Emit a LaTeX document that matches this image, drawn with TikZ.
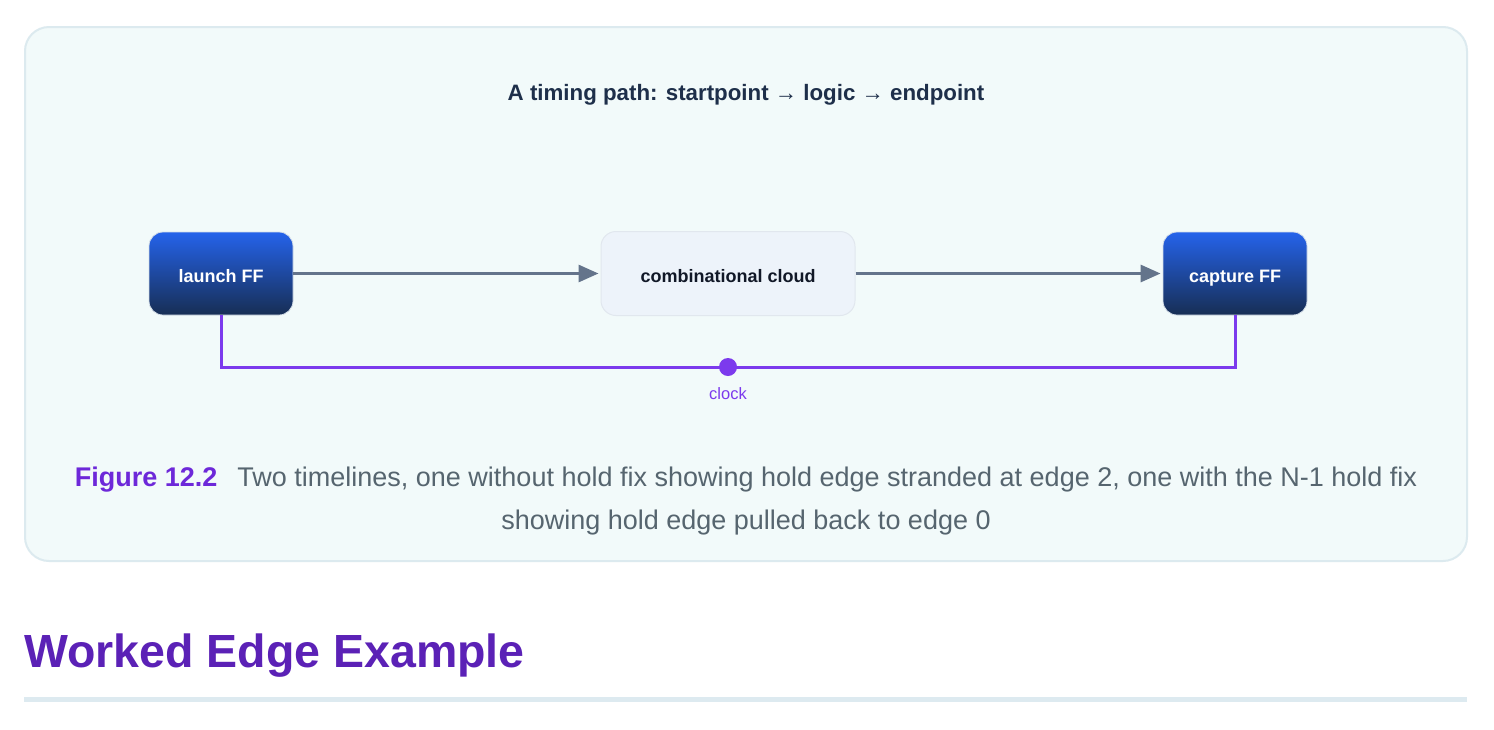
\documentclass[tikz,border=0pt]{standalone}
\usepackage{fontspec}
\setmainfont{Liberation Sans}
\usetikzlibrary{positioning}
\usetikzlibrary{arrows.meta}
\definecolor{panelbg}{HTML}{F2FAFA}
\definecolor{panelline}{HTML}{DCEAEF}
\definecolor{titleink}{HTML}{1E2F4A}
\definecolor{fftop}{HTML}{2563EB}
\definecolor{ffbot}{HTML}{172E54}
\definecolor{ffline}{HTML}{D5DEE8}
\definecolor{cloudfill}{HTML}{EDF3FA}
\definecolor{cloudline}{HTML}{E1E7EE}
\definecolor{cloudink}{HTML}{111827}
\definecolor{wireg}{HTML}{64748B}
\definecolor{clk}{HTML}{7C3AED}
\definecolor{capink}{HTML}{56656F}
\definecolor{figink}{HTML}{6D28D9}
\definecolor{headink}{HTML}{5B21B6}
\definecolor{ruleline}{HTML}{DDEAF0}
\tikzset{
    panel/.style = {draw=panelline, line width=2pt, fill=panelbg, rounded corners=24pt},
    ffnode/.style = {rectangle, rounded corners=14pt, draw=ffline, line width=0.8pt, top color=fftop, bottom color=ffbot, minimum width=144pt, minimum height=83pt, text height=17pt, text depth=0pt, text=white, font=\fontsize{18}{21}\selectfont\bfseries},
    cloudnode/.style = {rectangle, rounded corners=15pt, draw=cloudline, line width=1pt, fill=cloudfill, minimum width=254pt, minimum height=84pt, text height=17pt, text depth=0pt, text=cloudink, font=\fontsize{18}{21}\selectfont\bfseries},
    clkdot/.style = {circle, fill=clk, inner sep=0pt, minimum size=18pt},
    edgeg/.style = {-{Triangle[length=20pt,width=17pt]}, line width=3pt, wireg, shorten >=2pt},
    edgeclk/.style = {line width=3pt, clk},
    titletext/.style = {anchor=base, inner sep=0pt, text=titleink, font=\fontsize{22.3}{26}\selectfont\bfseries},
    clocktext/.style = {anchor=base, inner sep=0pt, text=clk, font=\fontsize{16.5}{19}\selectfont},
    captext/.style = {anchor=base, inner sep=0pt, text=capink, font=\fontsize{27}{31}\selectfont},
    headtext/.style = {anchor=base west, inner sep=0pt, text=headink, font=\fontsize{46.5}{52}\selectfont\bfseries}
}
\begin{document}
\begin{tikzpicture}[x=1pt, y=-1pt]
  \useasboundingbox (0,0) rectangle (1494,729);
  \fill[white] (0,0) rectangle (1494,729);

  % card
  \draw[panel] (25,27) rectangle (1467,561);
  \node[titletext] (title) at (746,100.5) {A timing path: startpoint → logic → endpoint};

  % path
  \node[ffnode] (launch) at (221,273.5) {launch FF};
  \node[cloudnode] (cloud) at (728,273.5) {combinational cloud};
  \node[ffnode] (capture) at (1235,273.5) {capture FF};
  \draw[edgeg] (launch) -- (cloud);
  \draw[edgeg] (cloud) -- (capture);

  % clock
  \draw[edgeclk] (launch.south) -- ++(0,52) -| (capture.south);
  \node[clkdot] (dot) at (728,367) {};
  \node[clocktext] (clklabel) at (728,399.5) {clock};

  % caption
  \node[captext] (cap1) at (746,486.5) {{\color{figink}\bfseries Figure 12.2}\hspace{20pt}Two timelines, one without hold fix showing hold edge stranded at edge 2, one with the N-1 hold fix};
  \node[captext] (cap2) at (746,529.5) {showing hold edge pulled back to edge 0};

  % heading
  \node[headtext] (heading) at (24,667) {Worked Edge Example};
  \fill[ruleline] (24,697) rectangle (1467,702);
\end{tikzpicture}
\end{document}
